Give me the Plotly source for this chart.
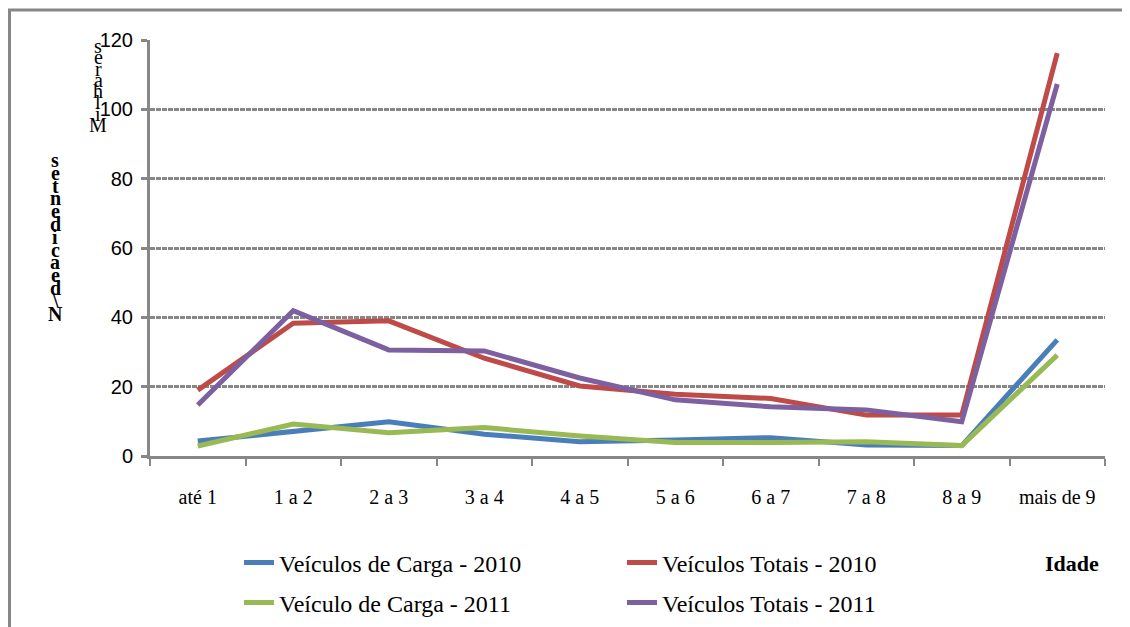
import plotly.graph_objects as go

categories = ["até 1", "1 a 2", "2 a 3", "3 a 4", "4 a 5", "5 a 6", "6 a 7", "7 a 8", "8 a 9", "mais de 9"]
carga_2010 = [4.3, 7.0, 9.9, 6.3, 4.1, 4.6, 5.3, 3.2, 3.0, 33.5]
totais_2010 = [19.0, 38.3, 39.0, 28.2, 20.2, 17.8, 16.6, 11.8, 11.8, 116.2]
carga_2011 = [2.9, 9.2, 6.7, 8.2, 5.8, 3.9, 3.9, 4.1, 3.0, 29.1]
totais_2011 = [14.7, 41.9, 30.6, 30.3, 22.5, 16.2, 14.2, 13.3, 9.9, 107.3]

series = [
    ("Veículos de Carga - 2010", carga_2010, "#4A7EBB", "legend"),
    ("Veículos Totais - 2010", totais_2010, "#BE4B48", "legend"),
    ("Veículo de Carga - 2011", carga_2011, "#98B954", "legend2"),
    ("Veículos Totais - 2011", totais_2011, "#7D60A0", "legend2"),
]

fig = go.Figure()
for name, vals, color, leg in series:
    fig.add_trace(go.Scatter(x=categories, y=vals, mode="lines", name=name,
                             line=dict(color=color, width=5), legend=leg))

gray = "#878787"
serif = "Liberation Serif"

# page body has an 8px margin; figure placed so plot area sits at window 150..1105 x 40..456
W, H = 1122, 619
L, T = 142, 32
PW, PH = 955, 416

def px(wx):
    return (wx - 8 - L) / PW

def py(wy):
    return (T + PH - (wy - 8)) / PH

def cy(wy):
    return (H - (wy - 8)) / H

fig.update_layout(
    width=W, height=H,
    margin=dict(l=L, r=W - L - PW, t=T, b=H - T - PH),
    plot_bgcolor="white", paper_bgcolor="white",
    showlegend=True,
    legend=dict(orientation="h", x=px(239), xanchor="left", y=cy(563), yanchor="middle",
                yref="container",
                entrywidth=338, font=dict(family=serif, size=24, color="black"),
                bgcolor="rgba(0,0,0,0)"),
    legend2=dict(orientation="h", x=px(239), xanchor="left", y=cy(603), yanchor="middle",
                 yref="container",
                 entrywidth=338, font=dict(family=serif, size=24, color="black"),
                 bgcolor="rgba(0,0,0,0)"),
    xaxis=dict(
        type="category", showgrid=False, showline=True, linecolor=gray, linewidth=3,
        ticks="outside", tickson="boundaries", ticklen=7, tickwidth=2, tickcolor=gray,
        tickfont=dict(family=serif, size=20, color="black"),
        ticklabelstandoff=21, range=[-0.5, 9.5], automargin=False,
    ),
    yaxis=dict(
        range=[0, 120], dtick=20, showgrid=True, gridcolor=gray, gridwidth=2.5,
        griddash="5px,1px", showline=True, linecolor=gray, linewidth=3,
        ticks="outside", ticklen=6, tickwidth=2.5, tickcolor=gray,
        tickfont=dict(family="Liberation Sans", size=20, color="black"),
        ticklabelstandoff=4, zeroline=False, automargin=False,
    ),
)

# outer frame
fig.add_shape(type="rect", xref="paper", yref="paper",
              x0=px(9.5), x1=1.3, y0=-0.7, y1=py(10),
              line=dict(color=gray, width=3), fillcolor="rgba(0,0,0,0)", layer="below")

# stacked axis titles (letters as shown in reference)
title1 = "Milhares"[::-1]
for i, ch in enumerate(title1):
    wy = 46 + i * 11.3
    fig.add_annotation(x=px(98), y=py(wy), xref="paper", yref="paper",
                       text=ch, showarrow=False, font=dict(family=serif, size=20, color="black"),
                       xanchor="center", yanchor="middle")

title2 = "N\\deacidentes"[::-1]
for i, ch in enumerate(title2):
    wy = 160 + i * 12.8
    fig.add_annotation(x=px(55), y=py(wy), xref="paper", yref="paper",
                       text="<b>" + ch + "</b>", showarrow=False,
                       font=dict(family=serif, size=20, color="black"),
                       xanchor="center", yanchor="middle")

fig.add_annotation(x=px(1101), y=py(563), xref="paper", yref="paper",
                   text="<b>Idade</b>", showarrow=False, xanchor="right", yanchor="middle",
                   font=dict(family=serif, size=22, color="black"))

fig.write_html("out.html")
